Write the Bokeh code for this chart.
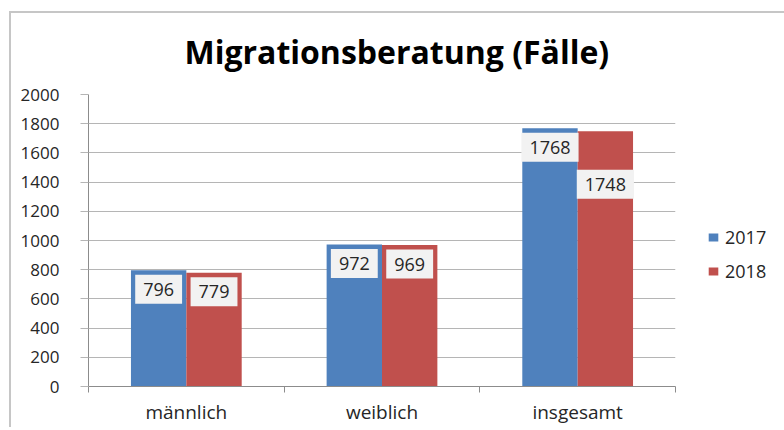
import numpy as np
from bokeh.plotting import figure
from bokeh.models import (Range1d, FixedTicker, LinearAxis, ColumnDataSource,
                          Legend, LegendItem, InlineStyleSheet)
from bokeh.core.properties import value
from bokeh.embed import file_html
from bokeh.resources import INLINE

# ---- data ----
title_text = "Migrationsberatung (Fälle)"
categories = ["männlich", "weiblich", "insgesamt"]
series_names = ["2017", "2018"]
values_2017 = [796, 972, 1768]
values_2018 = [779, 969, 1748]
y_ticks = [0, 200, 400, 600, 800, 1000, 1200, 1400, 1600, 1800, 2000]

# ---- style ----
FONT = "Open Sans"
BLUE = "#4F81BD"
RED = "#C0504D"
GRID = "#b5b5b5"
AXIS = "#8c8c8c"
TXT = "#262626"
BAR_W = 0.283

n = len(categories)
centers = np.arange(n) + 0.5

p = figure(frame_width=587, frame_height=292,
           min_border_left=88, min_border_right=101,
           min_border_top=94, min_border_bottom=36,
           x_range=Range1d(0, n), y_range=Range1d(0, max(y_ticks)),
           x_axis_location=None, y_axis_location=None,
           output_backend="svg", toolbar_location=None)
p.outline_line_color = None
p.background_fill_color = "white"
p.border_fill_color = "white"
p.stylesheets = [InlineStyleSheet(css="""
:host::after {
  content: "";
  position: absolute;
  left: 9px; top: 11px; right: 0; bottom: 0;
  border-top: 2px solid #c6c6c6;
  border-left: 2px solid #c6c6c6;
  pointer-events: none;
}
""")]

# title
p.title.text = title_text
p.title.text_font = FONT
p.title.text_font_size = "32px"
p.title.text_font_style = "bold"
p.title.text_color = "black"
p.title.align = "left"
p.title.offset = 96
p.title.standoff = 44

# y axis
yax = LinearAxis(ticker=FixedTicker(ticks=y_ticks))
yax.axis_line_color = AXIS
yax.major_tick_line_color = GRID
yax.major_tick_out = 8
yax.major_tick_in = 0
yax.minor_tick_line_color = None
yax.major_label_standoff = 21
yax.major_label_text_font = FONT
yax.major_label_text_font_size = "17px"
yax.major_label_text_color = TXT
p.add_layout(yax, "left")

# x axis: ticks at category boundaries
xtick_ax = LinearAxis(ticker=FixedTicker(ticks=list(range(n + 1))))
xtick_ax.axis_line_color = AXIS
xtick_ax.major_tick_line_color = AXIS
xtick_ax.major_tick_out = 6
xtick_ax.major_tick_in = 0
xtick_ax.minor_tick_line_color = None
xtick_ax.major_label_standoff = 0
xtick_ax.major_label_text_font_size = "0px"
xtick_ax.major_label_overrides = {i: "" for i in range(n + 1)}
p.add_layout(xtick_ax, "below")

# x axis: category names at centers
xname_ax = LinearAxis(ticker=FixedTicker(ticks=list(centers)))
xname_ax.major_label_overrides = {float(c): cat for c, cat in zip(centers, categories)}
xname_ax.axis_line_color = None
xname_ax.major_tick_line_color = None
xname_ax.minor_tick_line_color = None
xname_ax.major_label_standoff = 0
xname_ax.major_label_text_font = FONT
xname_ax.major_label_text_font_size = "19px"
xname_ax.major_label_text_color = TXT
p.add_layout(xname_ax, "below")

p.xgrid.visible = False
p.ygrid.ticker = FixedTicker(ticks=y_ticks)
p.ygrid.grid_line_color = GRID
p.ygrid.grid_line_width = 1

# bars
offsets = [-BAR_W / 2, BAR_W / 2]
colors = [BLUE, RED]
all_vals = [values_2017, values_2018]
renderers = []
for vals, off, col in zip(all_vals, offsets, colors):
    src = ColumnDataSource(dict(x=centers + off, top=vals))
    r = p.vbar(x="x", top="top", width=BAR_W, source=src,
               fill_color=col, line_color=None)
    renderers.append(r)

# data labels (second label pushed down when 4-digit labels collide)
for k, (vals, off) in enumerate(zip(all_vals, offsets)):
    yoff = []
    for i, v in enumerate(vals):
        base = 19
        if k == 1 and len(str(values_2017[i])) >= 4 and len(str(v)) >= 4:
            base += 34
        yoff.append(base)
    lsrc = ColumnDataSource(dict(x=centers + off, y=vals,
                                 text=[str(v) for v in vals], yoff=yoff))
    p.text(x="x", y="y", text="text", y_offset="yoff", source=lsrc,
           text_align="center", text_baseline="middle",
           text_font=value(FONT), text_font_size="18px", text_color=TXT,
           background_fill_color="#f2f2f2", padding=8)

legend = Legend(items=[LegendItem(label=s, renderers=[r]) for s, r in zip(series_names, renderers)],
                location=(32, 103))
legend.border_line_color = None
legend.background_fill_alpha = 0
legend.padding = 0
legend.margin = 0
legend.glyph_width = 12
legend.glyph_height = 10
legend.label_standoff = 6
legend.label_height = 20
legend.spacing = 10
legend.label_text_font = FONT
legend.label_text_font_size = "18px"
legend.label_text_color = TXT
p.add_layout(legend, "right")

open("out.html", "w").write(file_html(p, INLINE))
